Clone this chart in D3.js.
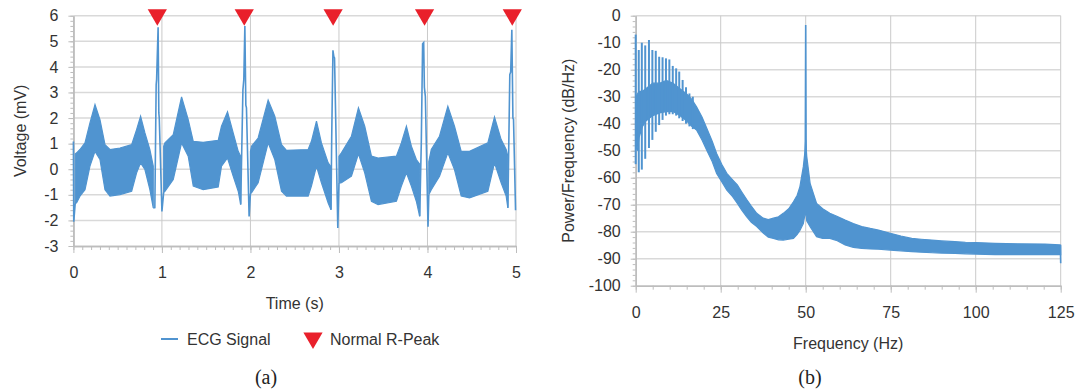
<!DOCTYPE html>
<html>
<head>
<meta charset="utf-8">
<script src="https://cdn.jsdelivr.net/npm/d3@7/dist/d3.min.js"></script>
<style>
  body { margin: 0; background: #fff; }
  text { font-family: "Liberation Sans", Arial, sans-serif; fill: #333; }
  .caption { font-family: "Liberation Serif", "Times New Roman", serif; font-size: 20px; fill: #222; }
</style>
</head>
<body>
<svg id="chart" width="1076" height="390"></svg>
<script>
// ---------- (a) ECG, values ----------
// the 50 Hz noise makes the trace a band, so keep its upper / lower edge (null = break at a QRS)
var ecgT = [0.02,0.037,0.074,0.131,0.187,0.244,0.30,0.357,0.413,0.526,0.658,0.714,0.759,0.808,0.864,0.902, null,
            1.02,1.034,1.128,1.222,1.297,1.354,1.466,1.636,1.673,1.741,1.805,1.862,1.89, null,
            2.0,2.012,2.087,2.2,2.275,2.351,2.407,2.652,2.689,2.746,2.802,2.878,2.91, null,
            3.0,3.028,3.141,3.22,3.291,3.367,3.442,3.649,3.705,3.762,3.818,3.874,3.912, null,
            4.015,4.043,4.136,4.23,4.305,4.381,4.475,4.682,4.757,4.832,4.889,4.908];
var ecgHi = [0.6,0.64,0.77,1.03,1.81,2.53,1.94,0.96,0.77,0.83,0.96,1.55,2.07,1.42,0.77,0.12, null,
             0.9,1.03,1.35,2.83,1.94,1.09,1.05,1.13,1.68,2.24,1.42,0.70,0.5, null,
             0.7,0.9,1.22,2.70,2.07,0.96,0.74,0.77,1.09,1.88,1.03,0.25,0.1, null,
             0.5,0.64,1.29,2.4,1.68,0.51,0.44,0.51,1.03,1.68,0.9,0.38,0.2, null,
             0.3,0.77,1.29,2.46,1.68,0.7,0.7,1.03,2.04,1.16,0.77,0.5];
var ecgLo = [-1.35,-1.3,-1.05,-0.8,0.12,0.70,0.38,-0.8,-1.05,-0.99,-0.86,-0.14,0.25,-0.01,-0.8,-1.51, null,
             -0.9,-0.86,-0.40,1.03,0.51,-0.66,-0.8,-0.69,0.12,0.44,-0.27,-0.86,-1.38, null,
             -0.95,-0.92,-0.53,1.03,0.38,-0.86,-1.05,-1.05,-0.66,0.12,-0.53,-1.32,-1.58, null,
             -0.55,-0.53,-0.27,0.6,-0.14,-1.25,-1.38,-1.25,-0.66,-0.14,-0.66,-1.25,-1.84, null,
             -1.0,-0.8,-0.27,0.64,-0.01,-1.05,-1.12,-0.86,0.25,-0.53,-1.05,-1.51];

// QRS complexes drawn as a plain line
var qrsT = [0,0.004,0.02, null,
            0.902,0.92,0.935,0.94,0.957,0.965,0.97,1.0,1.02, null,
            1.89,1.915,1.925,1.937,1.948,1.955,1.985,2.0, null,
            2.91,2.918,2.932,2.942,2.95,2.987,3.0, null,
            3.912,3.93,3.945,3.957,3.965,3.976,4.006,4.015, null,
            4.908,4.93,4.94,4.953,4.965,4.972,4.995];
var qrsV = [1.08,-2.05,-1.35, null,
            -1.51,-1.5,3.3,3.5,5.55,2.2,2.0,-1.65,-0.9, null,
            -1.38,3.1,3.5,5.6,2.5,2.4,-1.85,-0.95, null,
            -1.58,1.2,4.65,4.4,4.35,-2.3,-0.55, null,
            -1.84,1.0,4.9,4.95,3.2,2.85,-2.25,-1.0, null,
            -1.51,3.7,3.8,5.45,2.0,1.95,-1.6];

var peakT = [0.948, 1.93, 2.934, 3.967, 4.958];   // Normal R-Peak markers

var aXTicks = [0, 1, 2, 3, 4, 5];
var aYTicks = [-3, -2, -1, 0, 1, 2, 3, 4, 5, 6];

// ---------- (b) PSD, values ----------
var psdF = [0,0.5,1,2,3,5,7,9,11,13,15,16.5,17.9,19.5,20.9,22.5,23.8,25.3,26.8,28.5,29.9,31.2,32.6,34,35.6,37.5,
            39,40.5,42,43.4,45,46.4,47.5,48.3,49.3,49.8,50,50.3,51.3,53.2,55,57.1,59,61.6,64,66.5,69,71.4,74.9,
            78,81.2,84,87.1,90,93.9,97,100,105.7,112.6,120.4,124.8,125];
var psdHi = [-30,-29,-28,-28,-27,-25,-25,-24,-25,-27,-29,-31,-33.7,-37.5,-41.7,-46.5,-51,-55,-58.4,-60.8,-62.7,-65.3,-68,-70.5,-73.2,-75,
             -75.5,-75,-74.5,-73.2,-71.5,-68.9,-66.5,-63.3,-55.9,-50,-46,-52,-62.1,-69.5,-71.5,-73.2,-74.2,-75.7,-77,-78.1,-78.8,-79.4,-80.6,
             -81.6,-82.5,-82.8,-83.1,-83.4,-83.7,-83.9,-84,-84.3,-84.5,-84.6,-84.9,-85];
var psdLo = [-48,-50,-45,-41,-39,-37,-36,-35.5,-35.5,-37,-39,-41,-42.3,-46,-49.8,-54,-58.4,-61.5,-64.6,-67,-69.5,-72,-74.4,-76.5,-78.1,-80.5,
             -82,-82.5,-83,-83.1,-82.8,-82.5,-81,-79.5,-77,-73.5,-72.6,-76,-78.1,-81.9,-82.5,-82.5,-83.2,-84.9,-85.8,-86.2,-86.4,-86.5,-86.8,
             -87.1,-87.4,-87.6,-87.8,-87.9,-88,-88.2,-88.3,-88.5,-88.5,-88.5,-88.5,-88.5];

// heart-rate harmonics (comb at low frequency)
var harmF  = [0,0.9,1.8,2.8,3.9,4.9,5.9,6.9,7.9,8.9,9.9,10.9,11.9,12.8,13.8,14.8,15.8,16.8];
var harmHi = [-7,-12.7,-10,-11,-9,-12.7,-13,-15.2,-15.4,-15.8,-16.2,-18.6,-19.5,-20.7,-23.8,-26.5,-28.8,-30];
var harmLo = [-55,-58,-57,-53,-49,-46,-43,-40.5,-38.6,-37,-36.5,-36.5,-37,-38,-39,-40,-41,-42];

// 50 Hz mains line and the last bin
var lineF  = [49.85, 50, 50.15, null, 124.9, 125];
var lineDb = [-62, -3.4, -62, null, -85, -91.7];

var bXTicks = [0, 25, 50, 75, 100, 125];
var bYTicks = d3.range(-100, 1, 10);

// ---------- drawing ----------
var blue = '#5094d0', red = '#e9202b';
var gridColor = '#d9d9d9', vGridColor = '#cacaca', axisColor = '#bdbdbd';
var fontSize = 16;

var svg = d3.select('#chart');

function drawFrame(g, x, y, xTicks, yTicks, xMinor, yMinor) {
  var x0 = x.range()[0], x1 = x.range()[1];
  var y0 = y.range()[0], y1 = y.range()[1];
  var plain = d => String(d);   // hyphen minus like the original, not U+2212

  // horizontal grid
  g.selectAll('line.hgrid').data(yTicks.slice(1)).enter().append('line')
    .attr('class', 'hgrid')
    .attr('x1', x0).attr('x2', x1)
    .attr('y1', d => y(d)).attr('y2', d => y(d))
    .attr('stroke', gridColor).attr('stroke-width', 1.5);
  // vertical grid
  g.selectAll('line.vgrid').data(xTicks.slice(1)).enter().append('line')
    .attr('class', 'vgrid')
    .attr('y1', y1).attr('y2', y0)
    .attr('x1', d => x(d)).attr('x2', d => x(d))
    .attr('stroke', vGridColor).attr('stroke-width', 1);

  var ax = g.append('g').attr('transform', 'translate(0,' + y0 + ')')
    .call(d3.axisBottom(x).tickValues(xTicks).tickFormat(plain).tickSize(7).tickPadding(14).tickSizeOuter(0));
  var axm = g.append('g').attr('transform', 'translate(0,' + y0 + ')')
    .call(d3.axisBottom(x).tickValues(xMinor).tickSize(4).tickFormat('').tickSizeOuter(0));
  var ay = g.append('g').attr('transform', 'translate(' + x0 + ',0)')
    .call(d3.axisLeft(y).tickValues(yTicks).tickFormat(plain).tickSize(5).tickPadding(10).tickSizeOuter(0));
  var aym = g.append('g').attr('transform', 'translate(' + x0 + ',0)')
    .call(d3.axisLeft(y).tickValues(yMinor).tickSize(3).tickFormat('').tickSizeOuter(0));

  [ax, axm, ay, aym].forEach(function(a) {
    a.select('.domain').attr('stroke', axisColor).attr('stroke-width', 1.5);
    a.selectAll('.tick line').attr('stroke', axisColor);
    a.selectAll('.tick text').attr('font-size', fontSize).attr('fill', '#333')
      .attr('font-family', '"Liberation Sans", Arial, sans-serif');
  });
}

// ----- panel (a)
var xA = d3.scaleLinear().domain([0, 5]).range([73.4, 516]);
var yA = d3.scaleLinear().domain([-3, 6]).range([246, 15.7]);
var gA = svg.append('g');

drawFrame(gA, xA, yA, aXTicks, aYTicks,
  d3.range(0, 5.001, 0.1).map(d => +d.toFixed(1)),
  d3.range(-3, 6.001, 0.2).map(d => +d.toFixed(1)));

var ecg = ecgT.map((t, i) => ({ t: t, hi: ecgHi[i], lo: ecgLo[i] }));
gA.append('path')
  .datum(ecg)
  .attr('d', d3.area().defined(d => d.t != null)
    .x(d => xA(d.t)).y0(d => yA(d.lo)).y1(d => yA(d.hi)))
  .attr('fill', blue).attr('stroke', blue).attr('stroke-width', 1.2);

var qrs = qrsT.map((t, i) => ({ t: t, v: qrsV[i] }));
gA.append('path')
  .datum(qrs)
  .attr('d', d3.line().defined(d => d.t != null).x(d => xA(d.t)).y(d => yA(d.v)))
  .attr('fill', 'none').attr('stroke', blue).attr('stroke-width', 1.6);

var tri = d3.symbol().type(d3.symbolTriangle).size(160);
gA.selectAll('path.peak').data(peakT).enter().append('path')
  .attr('class', 'peak')
  .attr('d', tri)
  .attr('transform', d => 'translate(' + xA(d) + ',' + (yA(6) - 1) + ') rotate(180)')
  .attr('fill', red);

gA.append('text')
  .attr('transform', 'translate(20,' + (yA(1.5)) + ') rotate(-90)')
  .attr('text-anchor', 'middle').attr('dy', '0.35em')
  .attr('font-size', fontSize).text('Voltage (mV)');
gA.append('text')
  .attr('x', (xA(0) + xA(5)) / 2).attr('y', 303).attr('dy', '0.35em')
  .attr('text-anchor', 'middle').attr('font-size', fontSize).text('Time (s)');

// legend
var lg = gA.append('g').attr('transform', 'translate(0,339)');
lg.append('line').attr('x1', 161).attr('x2', 178).attr('y1', 0).attr('y2', 0)
  .attr('stroke', blue).attr('stroke-width', 2);
lg.append('text').attr('x', 187).attr('dy', '0.35em').attr('font-size', fontSize).text('ECG Signal');
lg.append('path').attr('d', tri).attr('fill', red)
  .attr('transform', 'translate(313,-1) rotate(180)');
lg.append('text').attr('x', 330).attr('dy', '0.35em').attr('font-size', fontSize).text('Normal R-Peak');

svg.append('text').attr('class', 'caption')
  .attr('x', 266).attr('y', 377).attr('dy', '0.35em').attr('text-anchor', 'middle').text('(a)');

// ----- panel (b)
var xB = d3.scaleLinear().domain([0, 125]).range([635.7, 1060.7]);
var yB = d3.scaleLinear().domain([-100, 0]).range([285.7, 15.7]);
var gB = svg.append('g');

drawFrame(gB, xB, yB, bXTicks, bYTicks,
  d3.range(0, 126, 5), d3.range(-100, 1, 2));

var psd = psdF.map((f, i) => ({ f: f, hi: psdHi[i], lo: psdLo[i] }));
gB.append('path')
  .datum(psd)
  .attr('d', d3.area().x(d => xB(d.f)).y0(d => yB(d.lo)).y1(d => yB(d.hi)))
  .attr('fill', blue).attr('stroke', blue).attr('stroke-width', 1.2);

gB.selectAll('line.harm').data(harmF).enter().append('line')
  .attr('class', 'harm')
  .attr('x1', d => xB(d)).attr('x2', d => xB(d))
  .attr('y1', (d, i) => yB(harmLo[i])).attr('y2', (d, i) => yB(harmHi[i]))
  .attr('stroke', blue).attr('stroke-width', 2);

var spk = lineF.map((f, i) => ({ f: f, v: lineDb[i] }));
gB.append('path')
  .datum(spk)
  .attr('d', d3.line().defined(d => d.f != null).x(d => xB(d.f)).y(d => yB(d.v)))
  .attr('fill', 'none').attr('stroke', blue).attr('stroke-width', 1.6);

gB.append('text')
  .attr('transform', 'translate(568,' + yB(-50) + ') rotate(-90)')
  .attr('text-anchor', 'middle').attr('dy', '0.35em')
  .attr('font-size', fontSize).text('Power/Frequency (dB/Hz)');
gB.append('text')
  .attr('x', (xB(0) + xB(125)) / 2).attr('y', 343).attr('dy', '0.35em')
  .attr('text-anchor', 'middle').attr('font-size', fontSize).text('Frequency (Hz)');

svg.append('text').attr('class', 'caption')
  .attr('x', 810).attr('y', 377).attr('dy', '0.35em').attr('text-anchor', 'middle').text('(b)');
</script>
</body>
</html>
